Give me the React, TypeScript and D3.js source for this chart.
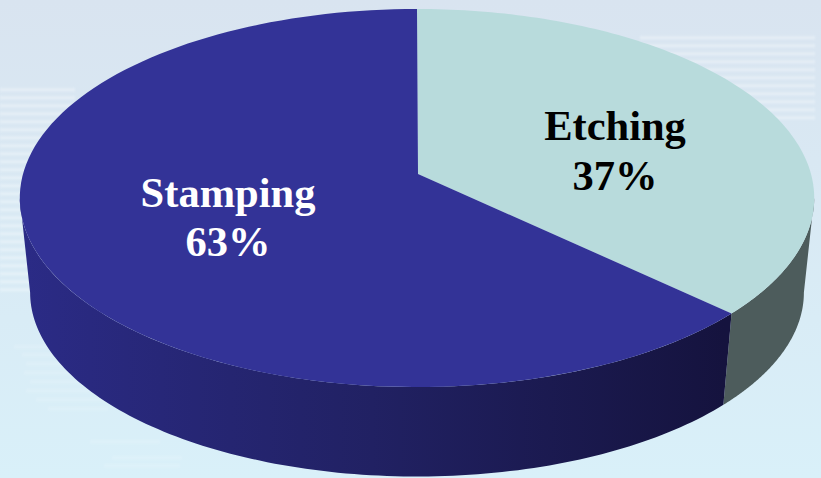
import React from "react";
import * as d3 from "d3";

const categories = ["Etching", "Stamping"];
const values = [37, 63];
const labels = ["37%", "63%"];
const topColors = ["#b8dbdc", "#333397"];
const textColors = ["#000000", "#ffffff"];
const labelPos = [[615, 140, 190], [228, 207, 256]];

const W = 821, H = 478;
const X0 = 417, C = 394, B = 186, P = -0.127;
const TOP_Y = 174, BOTTOM_Y = 269, BOTTOM_S = 0.974;
const SIL = Math.acos(-0.127);

const project = (t: number, y0: number, s: number): [number, number] => {
  const u = Math.sin(t), v = -Math.cos(t), d = 1 + P * v;
  return [X0 + (s * C * u) / d, y0 + (s * B * v) / d];
};
const samples = (a: number, b: number) => d3.range(0, 121).map((i) => a + ((b - a) * i) / 120);
const line = d3.line<[number, number]>();

const pie = d3.pie<number>().sort(null).startAngle(0).endAngle(2 * Math.PI);
const arcs = pie(values);

const wedge = (a: number, b: number) =>
  (line([[X0 + 1, TOP_Y], ...samples(a, b).map((t) => project(t, TOP_Y, 1))]) as string) + "Z";
const wall = (a: number, b: number) =>
  (line([
    ...samples(a, b).map((t) => project(t, TOP_Y, 1)),
    ...samples(b, a).map((t) => project(t, BOTTOM_Y, BOTTOM_S)),
  ]) as string) + "Z";

const seam = arcs[0].endAngle;
const leftSil = 2 * Math.PI - SIL;

// faint horizontal bands of the slide background: [x, y, width]
const bandsLeft = [88, 96, 104, 112, 120, 128, 136, 144, 152, 160, 168, 176, 184, 192, 200, 208, 216, 224, 232, 240, 248, 256, 264, 272, 280, 288].map((y) => [0, y, 75]);
const bandsRight = [36, 44, 52, 60, 68, 76, 84, 92, 100, 108, 116].map((y) => [640, y, 175]);
const bandsBottom = [
  [14, 345, 45], [22, 353, 50], [26, 362, 40], [24, 371, 55], [30, 380, 60], [26, 389, 90],
  [36, 398, 80], [48, 407, 60], [90, 440, 70], [112, 456, 70], [104, 464, 76],
];

export default function App() {
  return (
    <svg width={W} height={H} viewBox={`0 0 ${W} ${H}`} style={{ position: "absolute", left: 0, top: 0, display: "block" }}>
      <defs>
        <linearGradient id="bg" x1="0" y1="0" x2="0" y2="1">
          <stop offset="0" stopColor="#d9e4f0" />
          <stop offset="1" stopColor="#d9f0f9" />
        </linearGradient>
        <linearGradient id="sideBlue" gradientUnits="userSpaceOnUse" x1="20" y1="0" x2="724" y2="0">
          <stop offset="0" stopColor="#2b2b86" />
          <stop offset="0.5" stopColor="#212163" />
          <stop offset="1" stopColor="#15133e" />
        </linearGradient>
        <filter id="soft" x="-5%" y="-50%" width="110%" height="200%">
          <feGaussianBlur stdDeviation="0.8" />
        </filter>
      </defs>
      <rect width={W} height={H} fill="url(#bg)" />
      <g filter="url(#soft)" fill="#ffffff" opacity={0.3}>
        {[...bandsLeft, ...bandsRight].map(([x, y, w], i) => (
          <rect key={i} x={x} y={y} width={w} height={3.5} />
        ))}
      </g>
      <g filter="url(#soft)" fill="#ffffff" opacity={0.12}>
        {bandsBottom.map(([x, y, w], i) => (
          <rect key={i} x={x} y={y} width={w} height={3.5} />
        ))}
      </g>
      <path d={wall(SIL, seam)} fill="#4d5c5c" />
      <path d={wall(seam, leftSil)} fill="url(#sideBlue)" />
      {arcs.map((a, i) => (
        <path key={categories[i]} d={wedge(a.startAngle, a.endAngle)} fill={topColors[i]} />
      ))}
      {categories.map((c, i) => (
        <text key={c} textAnchor="middle" fontFamily="'Liberation Serif', serif" fontWeight="bold" fontSize={42.5} fill={textColors[i]}>
          <tspan x={labelPos[i][0]} y={labelPos[i][1]}>{c}</tspan>
          <tspan x={labelPos[i][0]} y={labelPos[i][2]}>{labels[i]}</tspan>
        </text>
      ))}
    </svg>
  );
}
